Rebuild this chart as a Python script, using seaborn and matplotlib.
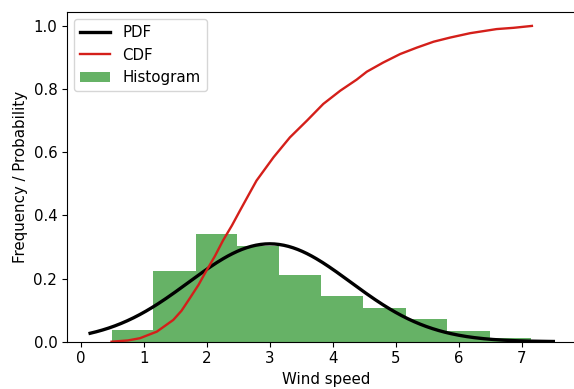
import numpy as np
import pandas as pd
import matplotlib
matplotlib.use("Agg")
import matplotlib.pyplot as plt
import seaborn as sns

# Histogram of wind speed (density-normalised)
bin_edges = [0.49, 1.15, 1.83, 2.48, 3.15, 3.82, 4.48, 5.16, 5.82, 6.49, 7.15]
bin_density = [0.038, 0.225, 0.340, 0.303, 0.211, 0.145, 0.108, 0.071, 0.034, 0.013]

# Fitted normal distribution
pdf_mean = 3.0
pdf_std = 1.287
pdf_range = (0.15, 7.5)

# Empirical cumulative distribution
cdf_x = [0.49, 0.75, 0.94, 1.21, 1.47, 1.60, 1.73, 1.87, 1.97, 2.13, 2.26, 2.40,
         2.53, 2.69, 2.79, 3.06, 3.32, 3.59, 3.85, 4.12, 4.38, 4.54, 4.80, 5.07,
         5.33, 5.60, 5.86, 6.18, 6.60, 6.87, 7.16]
cdf_y = [0.0, 0.004, 0.011, 0.032, 0.069, 0.098, 0.137, 0.180, 0.216, 0.271, 0.321, 0.368,
         0.416, 0.474, 0.510, 0.584, 0.647, 0.700, 0.753, 0.795, 0.830, 0.855, 0.884, 0.911,
         0.931, 0.950, 0.963, 0.977, 0.990, 0.994, 1.0]

x_ticks = [0, 1, 2, 3, 4, 5, 6, 7]
y_ticks = [0.0, 0.2, 0.4, 0.6, 0.8, 1.0]

plt.rcParams["font.size"] = 10.8

fig = plt.figure(figsize=(5.74, 3.89), dpi=100)
# axes run past the right edge of the canvas
ax = fig.add_axes([0.1167, 0.1216, 0.9033, 0.8483])

edges = np.array(bin_edges)
centers = (edges[:-1] + edges[1:]) / 2
hist_df = pd.DataFrame({"speed": centers, "density": bin_density})

pdf_x = np.linspace(pdf_range[0], pdf_range[1], 300)
pdf_y = np.exp(-0.5 * ((pdf_x - pdf_mean) / pdf_std) ** 2) / (pdf_std * np.sqrt(2 * np.pi))
pdf_df = pd.DataFrame({"speed": pdf_x, "p": pdf_y})
cdf_df = pd.DataFrame({"speed": cdf_x, "p": cdf_y})

sns.lineplot(data=pdf_df, x="speed", y="p", color="black", linewidth=2.4,
             label="PDF", ax=ax, sort=True)
sns.lineplot(data=cdf_df, x="speed", y="p", color="#d41f1a", linewidth=1.7,
             label="CDF", ax=ax, sort=True)
sns.histplot(data=hist_df, x="speed", weights="density", bins=list(bin_edges),
             stat="count", color="g", alpha=0.6, linewidth=0, label="Histogram", ax=ax)

ax.set_xlim(-0.217, 8.01)
ax.set_ylim(0, 1.045)
ax.set_xticks(x_ticks)
ax.set_yticks(y_ticks)
ax.set_xlabel("Wind speed")
ax.set_ylabel("Frequency / Probability")
ax.legend(loc="upper left")

fig.savefig("out.png", dpi=100)
